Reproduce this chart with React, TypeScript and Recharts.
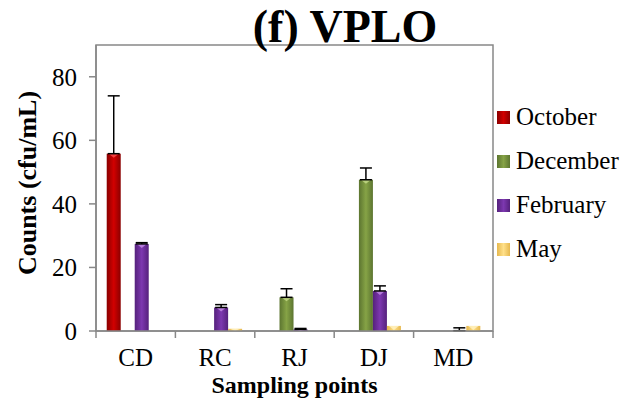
import React from "react";
import {
  BarChart, Bar, XAxis, YAxis, ErrorBar, Legend, ReferenceArea,
} from "recharts";

const categories = ["CD", "RC", "RJ", "DJ", "MD"];
const october = [55.8, 0, 0, 0, 0];
const december = [0, 0, 10.6, 47.6, 0];
const february = [27.4, 7.4, 0.5, 12.6, 0.1];
const may = [0, 0.7, 0, 1.6, 1.6];
const octoberErr = [18.2, null, null, null, null];
const decemberErr = [null, null, 2.7, 3.7, null];
const februaryErr = [0.4, 0.9, 0.3, 1.6, 0.9];
const yTicks = [0, 20, 40, 60, 80];

const series = [
  { key: "october", name: "October", edge: "#8a0000", mid: "#d20000", top: "#ff4d4d", values: october, err: octoberErr },
  { key: "december", name: "December", edge: "#5c7530", mid: "#86a346", top: "#c5dc8a", values: december, err: decemberErr },
  { key: "february", name: "February", edge: "#55217c", mid: "#7d38b0", top: "#c58ee8", values: february, err: februaryErr },
  { key: "may", name: "May", edge: "#e6b84e", mid: "#ffe08a", top: "#fff3c4", values: may, err: may.map(() => null) },
];

const data = categories.map((c, i) => {
  const row: any = { name: c };
  series.forEach(s => {
    row[s.key] = s.values[i];
    row[s.key + "Err"] = s.err[i] == null ? null : [0, s.err[i]];
  });
  return row;
});

const W = 637;
const H = 400;
const M = { top: 45, right: 144, bottom: 0, left: 0 };
const Y_W = 96;
const X_H = 69;
const BAND = (W - M.right - Y_W) / categories.length;
const AXIS = "#888888";
const FONT = '"Liberation Serif", "Times New Roman", Tinos';

function CategoryTick(props: any) {
  const { x, y, payload, index } = props;
  return (
    <g>
      <line x1={x - BAND / 2} x2={x - BAND / 2} y1={y} y2={y + 7} stroke={AXIS} strokeWidth={1.5} />
      {index === categories.length - 1 && (
        <line x1={x + BAND / 2} x2={x + BAND / 2} y1={y} y2={y + 7} stroke={AXIS} strokeWidth={1.5} />
      )}
      <text x={x} y={y + 35} textAnchor="middle" style={{ fontFamily: FONT }} fontSize={25} fill="#000">
        {payload.value}
      </text>
    </g>
  );
}

function BevelBar(props: any) {
  const { x, y, width, height, fill, topColor } = props;
  if (!height || height <= 0) return null;
  const t = Math.min(4, height);
  return (
    <g>
      <rect x={x} y={y} width={width} height={height} fill={fill} />
      <polygon
        points={`${x + 2},${y} ${x + width - 2},${y} ${x + width / 2},${y + t}`}
        fill={topColor}
        opacity={0.8}
      />
    </g>
  );
}

function LegendBox() {
  return (
    <div style={{ fontFamily: FONT, fontSize: 25, color: "#000" }}>
      {series.map(s => (
        <div key={s.key} style={{ display: "flex", alignItems: "center", height: 44 }}>
          <span
            style={{
              display: "inline-block",
              width: 13,
              height: 13,
              marginRight: 6,
              background: `linear-gradient(to right, ${s.edge}, ${s.mid}, ${s.edge})`,
            }}
          />
          <span>{s.name}</span>
        </div>
      ))}
    </div>
  );
}

export default function App() {
  return (
    <div style={{ position: "absolute", left: 0, top: 0, width: W, height: H, background: "#fff", fontFamily: FONT }}>
      <div
        style={{
          position: "absolute", left: 0, top: 0, width: 690, textAlign: "center",
          fontFamily: FONT, fontWeight: "bold", fontSize: 46, lineHeight: "54px", zIndex: 2,
        }}
      >
        (f) VPLO
      </div>
      <BarChart width={W} height={H} data={data} margin={M} barCategoryGap="13.5%" barGap={0} style={{ fontFamily: FONT }}>
        <defs>
          {series.map(s => (
            <linearGradient key={s.key} id={"g-" + s.key} x1="0" y1="0" x2="1" y2="0">
              <stop offset="0%" stopColor={s.edge} />
              <stop offset="50%" stopColor={s.mid} />
              <stop offset="100%" stopColor={s.edge} />
            </linearGradient>
          ))}
        </defs>
        <ReferenceArea y1={0} y2={90} fill="none" stroke={AXIS} strokeWidth={1.5} ifOverflow="visible" />
        <XAxis
          dataKey="name"
          height={X_H}
          axisLine={{ stroke: AXIS, strokeWidth: 1.5 }}
          tickLine={false}
          tickSize={0}
          tickMargin={0}
          tick={<CategoryTick />}
          interval={0}
          label={{
            content: (p: any) => {
              const vb = p.viewBox;
              return (
                <text x={vb.x + vb.width / 2} y={393} textAnchor="middle" style={{ fontFamily: FONT }} fontWeight="bold" fontSize={24}>
                  Sampling points
                </text>
              );
            },
          }}
        />
        <YAxis
          width={Y_W}
          domain={[0, 90]}
          ticks={yTicks}
          allowDataOverflow
          axisLine={{ stroke: AXIS, strokeWidth: 1.5 }}
          tickLine={{ stroke: AXIS, strokeWidth: 1.5 }}
          tickSize={7}
          tickMargin={12}
          tick={{ style: { fontFamily: FONT }, fontSize: 25, fill: "#000" }}
          label={{
            content: () => (
              <text
                x={0}
                y={0}
                transform="translate(36,183) rotate(-90)"
                textAnchor="middle"
                style={{ fontFamily: FONT }}
                fontWeight="bold"
                fontSize={26}
              >
                Counts (cfu/mL)
              </text>
            ),
          }}
        />
        <Legend
          layout="vertical"
          align="center"
          verticalAlign="middle"
          wrapperStyle={{ left: 497, top: 95, width: 140 }}
          content={() => <LegendBox />}
        />
        {series.map(s => (
          <Bar
            key={s.key}
            dataKey={s.key}
            name={s.name}
            fill={`url(#g-${s.key})`}
            shape={(p: any) => <BevelBar {...p} topColor={s.top} />}
            isAnimationActive={false}
          >
            <ErrorBar dataKey={s.key + "Err"} width={6} stroke="#000" strokeWidth={1.5} direction="y" />
          </Bar>
        ))}
      </BarChart>
    </div>
  );
}
